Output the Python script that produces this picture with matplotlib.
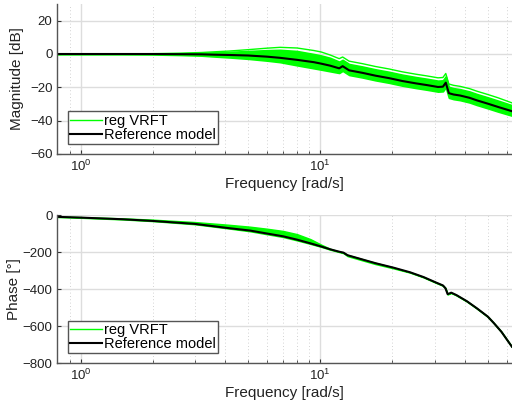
import matplotlib
matplotlib.use('Agg')
import matplotlib.pyplot as plt
from matplotlib.ticker import NullFormatter, LogLocator

plt.rcParams['font.family'] = ['Liberation Sans', 'DejaVu Sans']
plt.rcParams['font.size'] = 10

# Magnitude data
mag_freq = [0.8, 1.0, 1.5, 2.0, 2.6, 3.2, 3.6, 4.2, 5.0, 6.0, 6.8, 8.0, 9.4, 10.1, 11.0,
            12.0, 12.4, 13.2, 15.0, 17.0, 19.4, 22.0, 25.0, 28.0, 31.0, 32.5, 33.4, 34.4,
            36.0, 38.3, 42.0, 45.0, 50.0, 55.0, 63.0]
ref_mag = [0, 0, 0, 0, -0.1, -0.2, -0.4, -0.6, -0.9, -1.6, -2.3, -3.5, -4.9, -5.8, -7.0,
           -8.6, -7.3, -9.8, -11.3, -13.0, -14.5, -16.2, -17.6, -18.7, -19.8, -19.6, -17.2, -23.5,
           -24.3, -24.9, -26.3, -27.8, -29.8, -31.7, -34.3]
vrft_mag_top = [0, 0, 0.1, 0.2, 0.5, 0.9, 1.3, 1.8, 2.6, 3.5, 4.0, 3.6, 2.1, 1.2, -0.6,
                -2.8, -1.8, -4.3, -5.8, -7.5, -9.0, -10.7, -12.1, -13.2, -14.3, -14.1, -11.7, -18.0,
                -18.8, -19.4, -20.8, -22.3, -24.3, -26.2, -29.3]
vrft_mag_hi = [0, 0, 0.1, 0.2, 0.4, 0.7, 1.0, 1.3, 1.8, 2.3, 2.5, 1.8, 0.0, -0.9, -2.3,
               -4.6, -3.5, -6.0, -7.5, -9.2, -10.7, -12.4, -13.8, -14.9, -16.0, -15.8, -13.4, -19.7,
               -20.5, -21.1, -22.5, -24.0, -26.0, -27.9, -30.7]
vrft_mag_lo = [0, 0, -0.1, -0.3, -0.6, -1.0, -1.5, -2.1, -2.9, -4.0, -4.9, -6.8, -8.6, -9.4, -10.4,
               -11.4, -10.1, -12.6, -14.1, -15.8, -17.3, -19.0, -20.4, -21.5, -22.6, -22.4, -20.0, -26.3,
               -27.1, -27.7, -29.1, -30.6, -32.6, -34.5, -37.0]

# Phase data
ph_freq = [0.8, 1.0, 1.5, 2.0, 3.0, 4.1, 5.1, 6.0, 7.0, 8.0, 9.1, 10.1, 11.0, 12.0, 12.5, 13.0,
           15.0, 17.0, 20.2, 23.7, 27.0, 30.5, 32.5, 33.3, 34.0, 35.2, 37.0, 40.9, 45.0, 50.0,
           53.0, 57.0, 63.0]
ref_ph = [-10, -14, -23, -32, -48, -70, -84, -100, -115, -133, -153, -170, -185, -198, -203, -217,
          -240, -260, -284, -309, -335, -365, -380, -395, -427, -419, -432, -465, -503, -548,
          -583, -630, -710]
vrft_ph_hi = [-8, -11, -18, -25, -38, -52, -63, -74, -86, -103, -130, -160, -182, -197, -202, -215,
              -238, -258, -283, -308, -334, -364, -379, -394, -426, -418, -431, -464, -502, -547,
              -582, -629, -709]
vrft_ph_lo = [-11, -15, -24, -33, -50, -72, -88, -104, -119, -137, -156, -172, -187, -200, -206, -222,
              -245, -265, -288, -311, -337, -367, -382, -397, -429, -421, -434, -467, -505, -550,
              -585, -632, -712]

green = '#00ff00'
W, H = 512, 407
fig = plt.figure(figsize=(W / 100, H / 100), dpi=100)
left = 57.3 / W
ax1 = fig.add_axes([left, 1 - 154 / H, 1 - left, 150 / H])
ax2 = fig.add_axes([left, 1 - 363.3 / H, 1 - left, 148.3 / H])


def style(ax):
    ax.set_xscale('log')
    ax.set_xlim(0.8, 63.1)
    for s in ['top', 'right']:
        ax.spines[s].set_visible(False)
    for s in ['left', 'bottom']:
        ax.spines[s].set_color('#555555')
        ax.spines[s].set_linewidth(1.0)
    ax.xaxis.set_minor_locator(LogLocator(base=10, subs=range(2, 10)))
    ax.xaxis.set_minor_formatter(NullFormatter())
    ax.tick_params(which='both', direction='in', colors='#333333', labelcolor='#222222',
                   labelsize=9.5)
    ax.tick_params(which='major', length=3)
    ax.tick_params(which='minor', length=2)
    ax.grid(True, which='major', color='#dddddd', linewidth=1.0, linestyle='-')
    ax.grid(True, which='minor', axis='x', color='#c4c4c4', linewidth=0.6, linestyle=(0, (1, 3)))
    ax.set_axisbelow(True)
    ax.set_xlabel('Frequency [rad/s]', color='#222222', labelpad=2, fontsize=11)


# Magnitude plot
style(ax1)
ax1.fill_between(mag_freq, vrft_mag_lo, vrft_mag_hi, color=green, linewidth=1.2, edgecolor=green)
ax1.plot(mag_freq, vrft_mag_top, color=green, linewidth=1.0)
ax1.plot([], [], color=green, linewidth=1.0, label='reg VRFT')
ax1.plot(mag_freq, ref_mag, color='black', linewidth=1.5, label='Reference model')
ax1.set_ylim(-60, 30)
ax1.set_yticks([-60, -40, -20, 0, 20])
ax1.set_ylabel('Magnitude [dB]', color='#222222', labelpad=4, fontsize=11)

# Phase plot
style(ax2)
ax2.fill_between(ph_freq, vrft_ph_lo, vrft_ph_hi, color=green, linewidth=1.0, edgecolor=green)
ax2.plot([], [], color=green, linewidth=1.0, label='reg VRFT')
ax2.plot(ph_freq, ref_ph, color='black', linewidth=1.5, label='Reference model')
ax2.set_ylim(-800, 0)
ax2.set_yticks([-800, -600, -400, -200, 0])
ax2.set_ylabel('Phase [°]', color='#222222', labelpad=1, fontsize=11)

for ax in (ax1, ax2):
    leg = ax.legend(loc='lower left', fontsize=10.5, fancybox=False, framealpha=1,
                    edgecolor='#555555', handlelength=2.2, handletextpad=0.15,
                    borderpad=0.15, labelspacing=0.0, borderaxespad=0.7)
    leg.get_frame().set_linewidth(1.0)

fig.savefig('out.png', dpi=100)
